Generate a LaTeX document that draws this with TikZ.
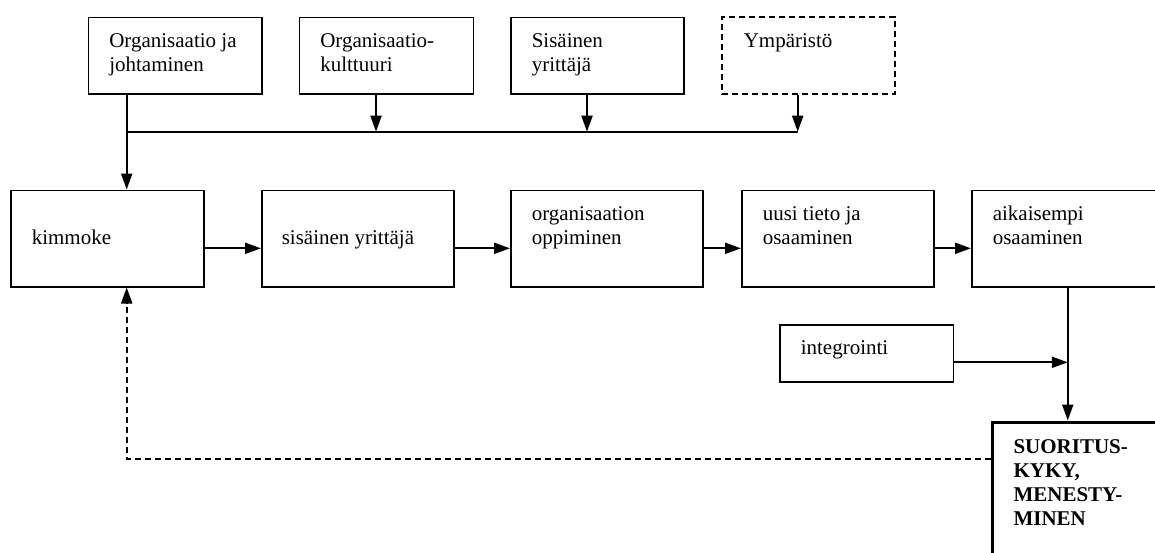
\documentclass[tikz,border=0pt]{standalone}
\usepackage{fontspec}
\setmainfont{Liberation Serif}
\usetikzlibrary{arrows.meta}
\newcommand\boxtxt[4]{\parbox[t][#2][t]{#1}{\raggedright\leftskip=#3\relax #4}}
\tikzset{
  every node/.style={font=\fontsize{21}{24}\selectfont},
  blk/.style={draw, line width=1.5pt, rectangle, inner sep=0pt, anchor=north west},
  dashblk/.style={blk, line width=2pt, dash pattern=on 6pt off 4pt},
  thickblk/.style={blk, line width=3pt},
  conn/.style={line width=2pt},
  arr/.style={conn, -{Triangle[length=16pt,width=11pt]}},
  dashconn/.style={arr, dash pattern=on 6pt off 4pt},
}
\begin{document}
\begin{tikzpicture}[x=1pt,y=-1pt]
\clip (0,0) rectangle (1155,552);
% top row
\node[blk] (b1) at (87.5,16.7) {\boxtxt{173.5pt}{76.6pt}{21pt}{\rule{0pt}{30pt}Organisaatio ja\\johtaminen}};
\node[blk] (b2) at (298.5,16.7) {\boxtxt{174pt}{76.6pt}{21pt}{\rule{0pt}{30pt}Organisaatio-\\kulttuuri}};
\node[blk] (b3) at (510,16.7) {\boxtxt{173pt}{76.6pt}{21pt}{\rule{0pt}{30pt}Sisäinen\\yrittäjä}};
\node[dashblk] (b4) at (720.8,16.2) {\boxtxt{173.5pt}{76.6pt}{22pt}{\rule{0pt}{30.5pt}Ympäristö}};
% middle row
\node[blk] (k) at (10,189.5) {\boxtxt{193pt}{96.5pt}{21pt}{\rule{0pt}{54.5pt}kimmoke}};
\node[blk] (s) at (261,189.5) {\boxtxt{192pt}{96.5pt}{20pt}{\rule{0pt}{54.5pt}sisäinen yrittäjä}};
\node[blk] (o) at (510,189.5) {\boxtxt{192pt}{96.5pt}{21pt}{\rule{0pt}{30.5pt}organisaation\\oppiminen}};
\node[blk] (u) at (741,189.5) {\boxtxt{192pt}{96.5pt}{21pt}{\rule{0pt}{30.5pt}uusi tieto ja\\osaaminen}};
\node[blk] (a) at (971,189.5) {\boxtxt{192pt}{96.5pt}{21pt}{\rule{0pt}{30.5pt}aikaisempi\\osaaminen}};
% lower
\node[blk] (ig) at (779,324) {\boxtxt{173.5pt}{57pt}{21pt}{\rule{0pt}{29.5pt}integrointi}};
\node[thickblk] (suo) at (991,420.5) {\boxtxt{200pt}{200pt}{21pt}{\bfseries\rule{0pt}{31.5pt}SUORITUS-\\KYKY,\\MENESTY-\\MINEN}};
% junction coordinates
\coordinate (j1) at (126.7,131.7);
\coordinate (j2) at (376,131.7);
\coordinate (j3) at (587,131.7);
\coordinate (j4) at (797.7,131.7);
\coordinate (rowy) at (0,248.3);
\coordinate (igy) at (0,362.3);
\coordinate (fby) at (0,459);
% connectors
\draw[conn] (j1) -- (j4);
\draw[arr] (b1.south -| j1) -- (k.north -| j1);
\draw[arr] (b2.south -| j2) -- (j2);
\draw[arr] (b3.south -| j3) -- (j3);
\draw[arr] (b4.south -| j4) -- (j4);
\draw[arr] (k.east |- rowy) -- (s.west |- rowy);
\draw[arr] (s.east |- rowy) -- (o.west |- rowy);
\draw[arr] (o.east |- rowy) -- (u.west |- rowy);
\draw[arr] (u.east |- rowy) -- (a.west |- rowy);
\draw[arr] (a.south) -- (a.south |- suo.north);
\draw[arr] (ig.east |- igy) -- (a.south |- igy);
\draw[dashconn] (suo.west |- fby) -- (j1 |- fby) -- (k.south -| j1);
\end{tikzpicture}
\end{document}
